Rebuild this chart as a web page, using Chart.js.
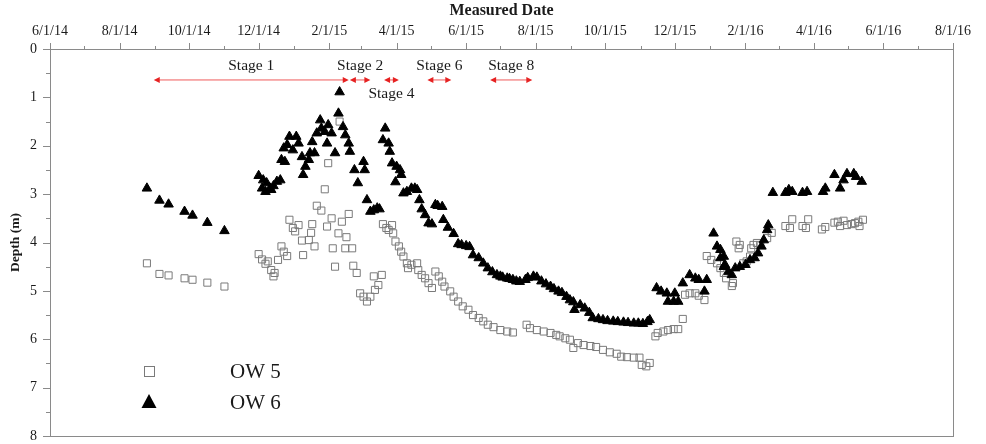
<!DOCTYPE html>
<html>
<head>
<meta charset="utf-8">
<script src="https://cdn.jsdelivr.net/npm/chart.js@4.4.1/dist/chart.umd.min.js"></script>
<style>
  html, body { margin: 0; padding: 0; background: #fff; }
  #wrap { width: 986px; height: 444px; }
</style>
</head>
<body>
<div id="wrap"><canvas id="grafico" width="986" height="444"></canvas></div>
<script>
// Dias contados a partir de 6/1/14 (inicio do eixo) e profundidade em metros
const monthDays = [0, 30, 61, 92, 122, 153, 183, 214, 245, 273, 304, 334, 365, 395, 426, 457, 487, 518, 548, 579, 610, 639, 670, 700, 731, 761, 792];
const dateLabels = ["6/1/14", "8/1/14", "10/1/14", "12/1/14", "2/1/15", "4/1/15", "6/1/15", "8/1/15", "10/1/15", "12/1/15", "2/1/16", "4/1/16", "6/1/16", "8/1/16"];
const depthTicks = [0, 1, 2, 3, 4, 5, 6, 7, 8];

const ow5Days = [85, 96, 104, 118, 125, 138, 153,
  183, 186, 189, 191, 194, 196, 197, 200, 203, 205, 208, 210, 213, 215, 218, 221, 222, 227, 229, 230, 232, 234, 238, 241, 243, 244, 247, 248, 250, 253, 254, 256, 259, 260, 262, 265, 266, 269, 272, 275, 278, 281, 284, 285, 288, 291,
  292, 295, 297, 300, 301, 303, 306, 308, 310, 313, 314, 317, 322, 323, 326, 329, 332, 335, 338, 341, 344, 346, 351, 354, 358, 362, 367, 371, 376, 380, 384, 389, 395, 401, 406,
  418, 421, 427, 433, 439, 444, 447, 452, 456, 459, 463, 468, 474, 479, 485, 491, 497, 501, 506, 512, 517, 519, 523, 526,
  531, 533, 538, 542, 547, 551, 555, 557, 561, 566, 569, 574, 576, 580, 585, 588, 591, 593, 598, 599, 602, 604, 605, 608, 611, 614, 615, 617, 620, 623, 629, 633,
  645, 649, 651, 660, 663, 665, 677, 680, 688, 691, 693, 696, 699, 703, 706, 709, 710, 713];
const ow5Depth = [4.43, 4.65, 4.68, 4.74, 4.77, 4.83, 4.91,
  4.24, 4.35, 4.44, 4.39, 4.57, 4.70, 4.63, 4.36, 4.08, 4.19, 4.28, 3.53, 3.70, 3.77, 3.64, 3.96, 4.26, 3.95, 3.80, 3.62, 4.08, 3.24, 3.34, 2.90, 3.67, 2.36, 3.50, 4.12, 4.50, 3.81, 1.50, 3.57, 4.12, 3.89, 3.41, 4.12, 4.48, 4.63, 5.05, 5.12, 5.22, 5.12, 4.70, 4.98, 4.88, 4.67,
  3.62, 3.70, 3.74, 3.64, 3.81, 3.98, 4.08, 4.19, 4.29, 4.43, 4.53, 4.46, 4.43, 4.57, 4.67, 4.74, 4.84, 4.94, 4.60, 4.70, 4.81, 4.91, 5.01, 5.12, 5.22, 5.32, 5.39, 5.50, 5.56, 5.63, 5.70, 5.75, 5.81, 5.84, 5.86,
  5.70, 5.77, 5.81, 5.84, 5.87, 5.91, 5.94, 5.98, 6.01, 6.18, 6.08, 6.12, 6.14, 6.16, 6.22, 6.27, 6.30, 6.36, 6.37, 6.38, 6.38, 6.53, 6.56, 6.49,
  5.94, 5.87, 5.84, 5.81, 5.79, 5.79, 5.58, 5.08, 5.05, 5.05, 5.10, 5.19, 4.28, 4.36, 4.43, 4.53, 4.63, 4.74, 4.90, 4.84, 3.98, 4.12, 4.05, 4.43, 4.39, 4.29, 4.12, 4.05, 4.01, 4.05, 3.91, 3.80,
  3.66, 3.70, 3.52, 3.66, 3.70, 3.52, 3.73, 3.68, 3.59, 3.57, 3.66, 3.55, 3.64, 3.62, 3.60, 3.57, 3.66, 3.53];

const ow6Days = [85, 96, 104, 118, 125, 138, 153,
  183, 186, 187, 189, 190, 193, 194, 196, 199, 202, 203, 205, 206, 208, 210, 213, 216, 218, 221, 222, 224, 227, 228, 230, 232, 234, 237, 238, 241, 243, 244, 247, 250, 253, 254, 257, 259, 262, 263, 267, 270, 275, 276, 278, 281, 284, 287, 289,
  292, 294, 297, 298, 300, 303, 304, 307, 308, 310, 313, 317, 320, 322, 324, 326, 329, 332, 335, 338, 340, 344, 345, 349, 354, 358, 361, 365, 368, 371, 376, 380, 384, 388, 392, 395, 397, 401, 403, 406, 409, 412,
  417, 419, 424, 427, 431, 435, 439, 442, 446, 449, 453, 456, 459, 460, 465, 469, 473, 476, 481, 485, 489, 494, 498, 503, 507, 512, 516, 520, 524, 526,
  532, 536, 541, 542, 547, 548, 551, 555, 561, 566, 569, 574, 576, 582, 585, 588, 588, 591, 591, 592, 595, 598, 601, 605, 610, 614, 618, 621, 624, 626, 629, 630,
  634, 645, 648, 651, 660, 664, 678, 680, 688, 693, 696, 699, 705, 707, 712];
const ow6Depth = [2.88, 3.13, 3.21, 3.36, 3.44, 3.59, 3.76,
  2.62, 2.88, 2.71, 2.95, 2.77, 2.88, 2.91, 2.83, 2.74, 2.71, 2.29, 2.05, 2.33, 1.98, 1.81, 2.09, 1.81, 1.95, 2.23, 2.60, 2.43, 2.29, 2.15, 1.92, 2.15, 1.74, 1.47, 1.64, 1.71, 1.95, 1.57, 1.74, 2.15, 1.33, 0.89, 1.61, 1.78, 1.95, 2.12, 2.50, 2.77, 2.33, 2.50, 3.12, 3.36, 3.33, 3.29, 3.31,
  1.88, 1.64, 1.95, 2.12, 2.36, 2.75, 2.43, 2.50, 2.60, 2.98, 2.95, 2.88, 2.88, 2.91, 3.12, 3.31, 3.43, 3.60, 3.62, 3.22, 3.24, 3.26, 3.53, 3.69, 3.82, 4.03, 4.05, 4.07, 4.09, 4.26, 4.32, 4.43, 4.53, 4.61, 4.67, 4.70, 4.72, 4.74, 4.75, 4.77, 4.80, 4.81,
  4.77, 4.73, 4.70, 4.72, 4.80, 4.86, 4.91, 4.96, 5.01, 5.04, 5.12, 5.19, 5.23, 5.39, 5.29, 5.36, 5.45, 5.56, 5.58, 5.60, 5.62, 5.63, 5.64, 5.65, 5.66, 5.67, 5.67, 5.68, 5.64, 5.60,
  4.94, 5.01, 5.05, 5.22, 5.22, 5.05, 5.22, 4.84, 4.67, 4.74, 4.77, 5.01, 4.77, 3.81, 4.08, 4.15, 4.32, 4.29, 4.50, 4.46, 4.60, 4.67, 4.53, 4.50, 4.46, 4.36, 4.32, 4.22, 4.08, 3.95, 3.74, 3.64,
  2.97, 2.97, 2.91, 2.95, 2.97, 2.95, 2.95, 2.88, 2.60, 2.88, 2.71, 2.58, 2.58, 2.64, 2.74];

// Estagios (inicio/fim em dias, profundidade da seta)
const stageLabels = ["Stage 1", "Stage 2", "Stage 4", "Stage 6", "Stage 8"];
const stageStart = [91, 263, 293, 331, 386];
const stageEnd = [262, 281, 306, 352, 423];
const stageDepth = 0.64;

const FONTE = "'Liberation Serif', 'Times New Roman', serif";
const COR_EIXO = "#8a8a8a";
const COR_TEXTO = "#1a1a1a";

function pontos(dias, prof) {
  return dias.map((d, i) => ({ x: d, y: prof[i] }));
}

// Ticks maiores/menores e moldura
function desenharEixos(chart) {
  const { ctx, chartArea: a, scales } = chart;
  const x = scales.x, y = scales.y;
  ctx.save();
  ctx.strokeStyle = COR_EIXO;
  ctx.lineWidth = 1;
  ctx.beginPath();
  monthDays.forEach((d, i) => {
    const px = Math.round(x.getPixelForValue(d)) + 0.5;
    ctx.moveTo(px, a.top);
    ctx.lineTo(px, a.top - (i % 2 === 0 ? 6 : 3));
  });
  for (let v = 0; v <= 8; v += 0.5) {
    const py = Math.round(y.getPixelForValue(v)) + 0.5;
    ctx.moveTo(a.left, py);
    ctx.lineTo(a.left - (v % 1 === 0 ? 7 : 4), py);
  }
  ctx.stroke();
  ctx.strokeRect(Math.round(a.left) + 0.5, Math.round(a.top) + 0.5,
    Math.round(a.right - a.left), Math.round(a.bottom - a.top));
  ctx.restore();
}

function seta(ctx, x, y, dir) {
  ctx.beginPath();
  ctx.moveTo(x, y);
  ctx.lineTo(x + dir * 6, y - 3);
  ctx.lineTo(x + dir * 6, y + 3);
  ctx.closePath();
  ctx.fill();
}

// Setas dos estagios com rotulos; rotulo desce se colidir com o anterior
function desenharEstagios(chart) {
  const { ctx, scales } = chart;
  const x = scales.x, y = scales.y;
  const py = y.getPixelForValue(stageDepth);
  let ultimoFim = -Infinity;
  ctx.save();
  ctx.font = "15.5px " + FONTE;
  ctx.textAlign = "center";
  ctx.textBaseline = "middle";
  stageLabels.forEach((label, i) => {
    const x1 = x.getPixelForValue(stageStart[i]);
    const x2 = x.getPixelForValue(stageEnd[i]);
    ctx.strokeStyle = "#ef5a5a";
    ctx.lineWidth = 1;
    ctx.beginPath();
    ctx.moveTo(x1 + 3, py);
    ctx.lineTo(x2 - 3, py);
    ctx.stroke();
    ctx.fillStyle = "#e62222";
    seta(ctx, x1, py, 1);
    seta(ctx, x2, py, -1);

    const cx = (x1 + x2) / 2;
    const w = ctx.measureText(label).width;
    let ty = py - 14;
    if (cx - w / 2 < ultimoFim) {
      ty = py + 14;
    } else {
      ultimoFim = cx + w / 2;
    }
    ctx.fillStyle = COR_TEXTO;
    ctx.fillText(label, cx, ty);
  });
  ctx.restore();
}

// Legenda dentro da area do grafico
function desenharLegenda(chart) {
  const { ctx, chartArea: a } = chart;
  const mx = a.left + 99;
  const y5 = a.top + 322;
  const y6 = a.top + 353;
  ctx.save();
  ctx.strokeStyle = "#7a7a7a";
  ctx.lineWidth = 1;
  ctx.strokeRect(Math.round(mx - 5) + 0.5, Math.round(y5 - 5) + 0.5, 10, 10);
  ctx.fillStyle = "#000";
  ctx.beginPath();
  ctx.moveTo(mx, y6 - 8);
  ctx.lineTo(mx + 7.5, y6 + 6);
  ctx.lineTo(mx - 7.5, y6 + 6);
  ctx.closePath();
  ctx.fill();
  ctx.font = "21px " + FONTE;
  ctx.fillStyle = COR_TEXTO;
  ctx.textBaseline = "middle";
  ctx.fillText("OW 5", a.left + 180, y5 + 1);
  ctx.fillText("OW 6", a.left + 180, y6 + 1);
  ctx.restore();
}

const extrasPlugin = {
  id: "extras",
  afterDraw(chart) {
    desenharEixos(chart);
    desenharEstagios(chart);
    desenharLegenda(chart);
  },
};

new Chart(document.getElementById("grafico").getContext("2d"), {
  type: "scatter",
  data: {
    datasets: [
      {
        label: "OW 5",
        data: pontos(ow5Days, ow5Depth),
        pointStyle: "rect",
        pointRadius: 5,
        borderColor: "#7a7a7a",
        backgroundColor: "rgba(255,255,255,0)",
        borderWidth: 1,
        order: 1,
      },
      {
        label: "OW 6",
        data: pontos(ow6Days, ow6Depth),
        pointStyle: "triangle",
        pointRadius: 5.5,
        borderColor: "#000",
        backgroundColor: "#000",
        borderWidth: 1,
        order: 0,
      },
    ],
  },
  options: {
    responsive: false,
    devicePixelRatio: 1,
    animation: false,
    layout: { autoPadding: false, padding: { top: 0, left: 0, right: 33, bottom: 8 } },
    plugins: { legend: { display: false }, tooltip: { enabled: false } },
    scales: {
      x: {
        type: "linear",
        position: "top",
        min: 0,
        max: 792,
        grid: { display: false },
        border: { display: false },
        afterBuildTicks: (s) => { s.ticks = monthDays.map((v) => ({ value: v })); },
        afterFit: (s) => {
          s.height = 49;
          s.paddingLeft = 0;
          s.paddingRight = 0;
        },
        ticks: {
          autoSkip: false,
          maxRotation: 0,
          padding: 1,
          color: COR_TEXTO,
          font: { family: FONTE, size: 14 },
          callback: (v, i) => (i % 2 === 0 ? dateLabels[i / 2] : ""),
        },
        title: {
          display: true,
          text: "Measured Date",
          color: COR_TEXTO,
          padding: { top: 1, bottom: 0 },
          font: { family: FONTE, size: 16, weight: "bold" },
        },
      },
      y: {
        type: "linear",
        reverse: true,
        min: 0,
        max: 8,
        grid: { display: false },
        border: { display: false },
        afterBuildTicks: (s) => { s.ticks = depthTicks.map((v) => ({ value: v })); },
        afterFit: (s) => {
          s.width = 50;
          s.paddingTop = 0;
          s.paddingBottom = 0;
        },
        ticks: {
          padding: 5,
          color: COR_TEXTO,
          font: { family: FONTE, size: 14 },
        },
        title: {
          display: true,
          text: "Depth (m)",
          color: COR_TEXTO,
          padding: { top: 7, bottom: 0 },
          font: { family: FONTE, size: 13.5, weight: "bold" },
        },
      },
    },
  },
  plugins: [extrasPlugin],
});
</script>
</body>
</html>
